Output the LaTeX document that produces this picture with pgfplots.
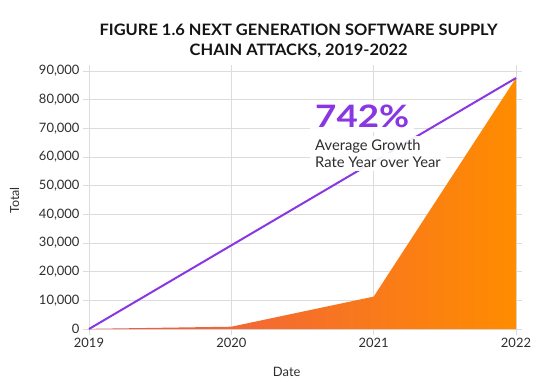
\documentclass[border=0pt]{standalone}
\usepackage{fontspec}
\setmainfont{Lato}
\newfontfamily\bigfont{Lato}[FakeStretch=1.19]
\newfontfamily\titlefont{Lato}[FakeStretch=1.045]
\usepackage{pgfplots}
\pgfplotsset{compat=1.18}
\definecolor{gridc}{RGB}{220,220,220}
\definecolor{purp}{RGB}{137,54,227}
\definecolor{tickc}{RGB}{45,45,45}
\definecolor{titlec}{RGB}{20,20,20}
\definecolor{oL}{RGB}{236,85,80}
\definecolor{oM}{RGB}{249,116,28}
\definecolor{oR}{RGB}{255,140,0}
\begin{document}
\begin{tikzpicture}
\begin{axis}[
  at={(0,0)}, anchor=south west,
  scale only axis, width=427bp, height=258bp,
  clip=false,
  xmin=2019, xmax=2022, ymin=0, ymax=90000,
  xtick={2019,2020,2021,2022},
  xticklabels={2019,2020,2021,2022},
  ytick={0,10000,20000,30000,40000,50000,60000,70000,80000,90000},
  scaled y ticks=false,
  /pgf/number format/assume math mode=true,
  /pgf/number format/1000 sep={,},
  grid=major, grid style={gridc, line width=0.8pt},
  axis line style={draw=none},
  tick align=outside, major tick length=6bp,
  tick style={gridc, line width=0.8pt},
  ticklabel style={font=\fontsize{13}{15}\selectfont, text=tickc},
  xlabel={Date},
  xlabel style={at={(rel axis cs:0.463,-0.167)}, anchor=center, font=\fontsize{13}{15}\selectfont, text=tickc},
  ylabel={Total},
  ylabel style={at={(rel axis cs:-0.174,0.498)}, anchor=center, font=\fontsize{12.5}{15}\selectfont, text=tickc},
]
\addplot[draw=none, left color=oL, middle color=oM, right color=oR]
  coordinates {(2019,50) (2020,800) (2021,11300) (2022,87550)} \closedcycle;
\addplot[purp, line width=2pt] coordinates {(2019,0) (2022,87550)};
\node[anchor=base west, inner xsep=5bp, inner ysep=4bp, fill=white, fill opacity=0.92, text opacity=1, text=purp, font=\bigfont\bfseries\fontsize{31}{32}\selectfont]
  at (rel axis cs:0.5176,0.7818) {742\%};
\node[anchor=base west, inner xsep=5bp, inner ysep=4bp, fill=white, fill opacity=0.92, text opacity=1, text=tickc, font=\fontsize{14.8}{16}\selectfont]
  at (rel axis cs:0.5176,0.6911) {Average Growth};
\node[anchor=base west, inner xsep=5bp, inner ysep=4bp, fill=white, fill opacity=0.92, text opacity=1, text=tickc, font=\fontsize{14.8}{16}\selectfont]
  at (rel axis cs:0.5176,0.6267) {Rate Year over Year};
\node[anchor=base, text=titlec, font=\titlefont\bfseries\fontsize{15.8}{18}\selectfont]
  at (rel axis cs:0.491,1.1376) {FIGURE 1.6 NEXT GENERATION SOFTWARE SUPPLY};
\node[anchor=base, text=titlec, font=\titlefont\bfseries\fontsize{15.8}{18}\selectfont]
  at (rel axis cs:0.491,1.0616) {CHAIN ATTACKS, 2019-2022};
\end{axis}
\pgfresetboundingbox
\path[use as bounding box] (-89bp,-60bp) rectangle (451bp,329bp);
\end{tikzpicture}
\end{document}
